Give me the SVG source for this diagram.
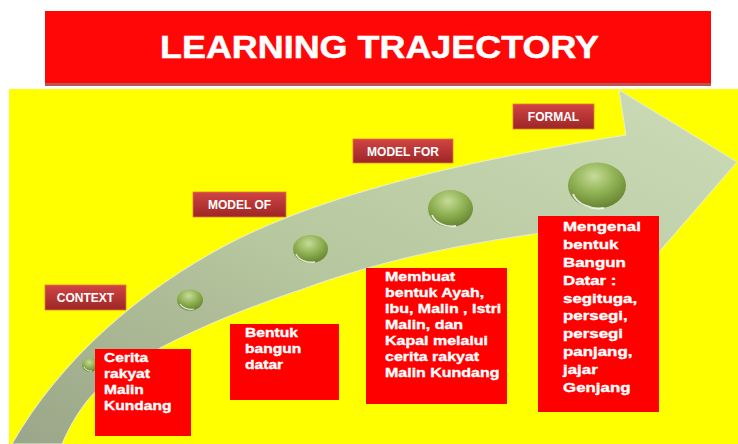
<svg xmlns="http://www.w3.org/2000/svg" width="738" height="444" viewBox="0 0 738 444">
<defs>
<linearGradient id="band" x1="0" y1="1" x2="1" y2="0">
<stop offset="0" stop-color="#9aa688"/>
<stop offset="0.45" stop-color="#b6c69e"/>
<stop offset="1" stop-color="#ccdcb8"/>
</linearGradient>
<radialGradient id="sph" cx="0.45" cy="0.3" r="0.75">
<stop offset="0" stop-color="#c6dc98"/>
<stop offset="0.5" stop-color="#8fb052"/>
<stop offset="1" stop-color="#5f7d2c"/>
</radialGradient>
<linearGradient id="lbl" x1="0" y1="0" x2="0" y2="1">
<stop offset="0" stop-color="#d24444"/>
<stop offset="1" stop-color="#9c2626"/>
</linearGradient>
<style>
.lab rect{fill:url(#lbl);stroke:#e07a3a;stroke-width:0.8}
.lab text{font-family:"Liberation Sans",Arial,sans-serif;font-weight:bold;font-size:12px;fill:#ffffff;text-anchor:middle}
.box rect{fill:#ff0000}
.box text{font-family:"Liberation Sans",Arial,sans-serif;font-weight:bold;font-size:13px;fill:#ffffff;stroke:#ffffff;stroke-width:0.35}
.sp ellipse.b{fill:url(#sph)}
.sp path{fill:none;stroke:#ffffff;stroke-opacity:0.8}
</style>
</defs>
<rect width="738" height="444" fill="#ffffff"/>
<g id="title">
<rect x="45" y="13" width="666" height="73" fill="#b85454"/>
<rect x="45" y="11" width="666" height="72" fill="#ff0707"/>
<text x="160" y="58" textLength="439" lengthAdjust="spacingAndGlyphs" font-family="'Liberation Sans',Arial,sans-serif" font-weight="bold" font-size="32" fill="#ffffff" stroke="#ffffff" stroke-width="0.5">LEARNING TRAJECTORY</text>
</g>
<rect id="background" x="9" y="89" width="729" height="355" fill="#ffff00"/>
<g id="arrow">
<path d="M12,444 C60,360 140,290 230,243 C330,192 470,160 626,135 L619,90 L737,162 L645,268 L636,220 C520,236 420,246 300,290 C210,320 130,358 95,392 C82,405 70,425 62,444 Z" fill="url(#band)" stroke="#e6eed8" stroke-width="1"/>
</g>
<g id="spheres" class="sp">
<g id="sphere1"><ellipse class="b" cx="90" cy="365" rx="8" ry="7"/><path d="M84,367 A7,6 0 0 0 92,371" stroke-width="1"/></g>
<g id="sphere2"><ellipse class="b" cx="190" cy="300" rx="13" ry="10.5"/><path d="M180,304 A12,9 0 0 0 194,309" stroke-width="1.2"/></g>
<g id="sphere3"><ellipse class="b" cx="310.5" cy="249" rx="17.5" ry="14"/><path d="M296,254 A16,12 0 0 0 315,262" stroke-width="1.5"/></g>
<g id="sphere4"><ellipse class="b" cx="450.5" cy="208.5" rx="22.5" ry="18.5"/><path d="M432,215 A21,16 0 0 0 456,226" stroke-width="1.8"/></g>
<g id="sphere5"><ellipse class="b" cx="597" cy="185.5" rx="29" ry="23"/><path d="M573,194 A27,20 0 0 0 604,208" stroke-width="2"/></g>
</g>
<g id="label-context" class="lab"><rect x="45" y="285" width="81" height="25"/><text x="85.5" y="302">CONTEXT</text></g>
<g id="label-modelof" class="lab"><rect x="193" y="192" width="93" height="25"/><text x="239.5" y="209">MODEL OF</text></g>
<g id="label-modelfor" class="lab"><rect x="353" y="139" width="100" height="24"/><text x="403" y="156">MODEL FOR</text></g>
<g id="label-formal" class="lab"><rect x="513" y="104" width="81" height="25"/><text x="553.5" y="121">FORMAL</text></g>
<g id="box-cerita" class="box">
<rect x="95" y="349" width="96" height="87"/>
<g transform="translate(104,0) scale(1.2,1)">
<text x="0" y="362">Cerita</text>
<text x="0" y="378">rakyat</text>
<text x="0" y="394">Malin</text>
<text x="0" y="410">Kundang</text>
</g>
</g>
<g id="box-bentuk" class="box">
<rect x="230" y="324" width="109" height="76"/>
<g transform="translate(245,0) scale(1.2,1)">
<text x="0" y="337">Bentuk</text>
<text x="0" y="353">bangun</text>
<text x="0" y="369">datar</text>
</g>
</g>
<g id="box-membuat" class="box">
<rect x="366" y="268" width="141" height="136"/>
<g transform="translate(385,0) scale(1.23,1)">
<text x="0" y="281">Membuat</text>
<text x="0" y="297">bentuk Ayah,</text>
<text x="0" y="313">Ibu, Malin , Istri</text>
<text x="0" y="329">Malin, dan</text>
<text x="0" y="345">Kapal melalui</text>
<text x="0" y="361">cerita rakyat</text>
<text x="0" y="377">Malin Kundang</text>
</g>
</g>
<g id="box-mengenal" class="box">
<rect x="538" y="216" width="121" height="196"/>
<g transform="translate(563,0) scale(1.3,1)">
<text x="0" y="231" font-size="13.5">Mengenal</text>
<text x="0" y="249" font-size="13.5">bentuk</text>
<text x="0" y="267" font-size="13.5">Bangun</text>
<text x="0" y="285" font-size="13.5">Datar :</text>
<text x="0" y="303" font-size="13.5">segituga,</text>
<text x="0" y="320.5" font-size="13.5">persegi,</text>
<text x="0" y="338.5" font-size="13.5">persegi</text>
<text x="0" y="356.5" font-size="13.5">panjang,</text>
<text x="0" y="374" font-size="13.5">jajar</text>
<text x="0" y="392" font-size="13.5">Genjang</text>
</g>
</g>
</svg>
